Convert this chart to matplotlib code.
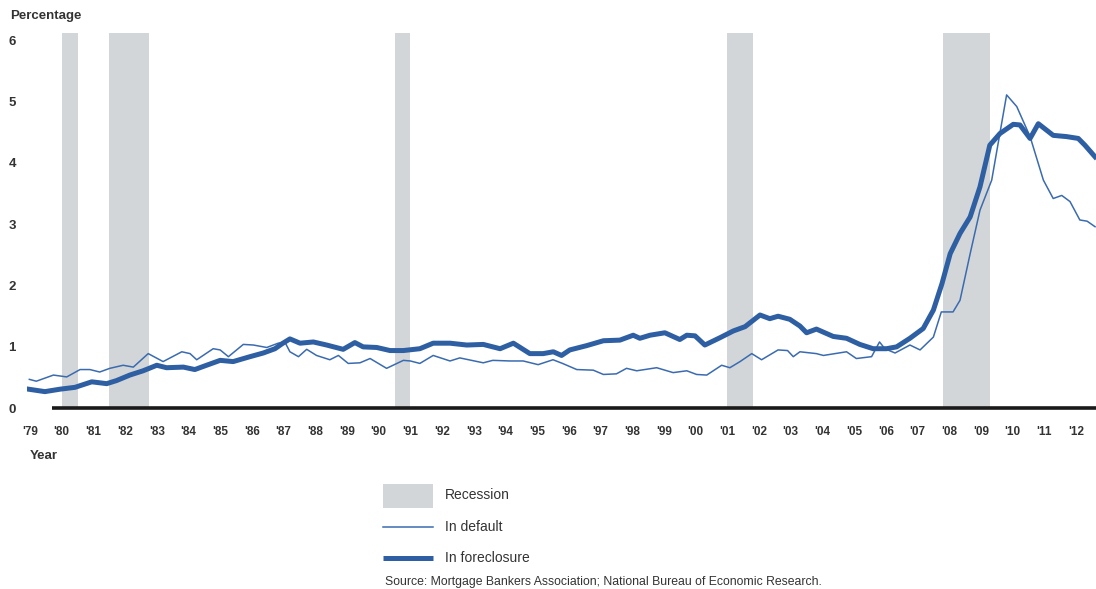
import numpy as np
import matplotlib
matplotlib.use("Agg")
import matplotlib.pyplot as plt
from matplotlib.patches import Rectangle
from matplotlib.lines import Line2D

plt.rcParams["font.family"] = ["Liberation Sans", "DejaVu Sans"]

# recession periods (start, end) in decimal years
rec_start = [1980.0, 1981.5, 1990.5, 2001.0, 2007.8]
rec_end = [1980.5, 1982.75, 1991.0, 2001.8, 2009.3]

fc_year = [1978.95, 1979.47, 1979.95, 1980.42, 1980.95, 1981.42, 1981.73, 1982.15, 1982.57, 1983.0,
           1983.31, 1983.84, 1984.2, 1984.57, 1985.0, 1985.41, 1985.94, 1986.36, 1986.73, 1986.95,
           1987.2, 1987.52, 1987.94, 1988.36, 1988.88, 1989.25, 1989.51, 1989.94, 1990.36, 1990.78,
           1991.3, 1991.72, 1992.25, 1992.78, 1993.3, 1993.83, 1994.25, 1994.77, 1995.19, 1995.51,
           1995.77, 1996.03, 1996.56, 1997.09, 1997.61, 1998.03, 1998.24, 1998.56, 1999.03, 1999.5,
           1999.72, 1999.98, 2000.29, 2000.77, 2001.19, 2001.56, 2002.03, 2002.34, 2002.6, 2002.97,
           2003.29, 2003.5, 2003.81, 2004.34, 2004.76, 2005.18, 2005.6, 2006.02, 2006.34, 2006.76,
           2007.18, 2007.5, 2007.77, 2008.03, 2008.34, 2008.66, 2008.97, 2009.28, 2009.6, 2010.02,
           2010.23, 2010.55, 2010.81, 2011.28, 2011.7, 2012.07, 2012.28, 2012.6]
fc_val = [0.31, 0.27, 0.31, 0.34, 0.43, 0.40, 0.45, 0.54, 0.61, 0.70,
          0.66, 0.67, 0.63, 0.70, 0.78, 0.76, 0.84, 0.90, 0.97, 1.05,
          1.13, 1.06, 1.08, 1.03, 0.96, 1.07, 1.00, 0.99, 0.94, 0.94,
          0.97, 1.06, 1.06, 1.03, 1.04, 0.97, 1.06, 0.89, 0.89, 0.92,
          0.86, 0.95, 1.02, 1.10, 1.11, 1.19, 1.14, 1.19, 1.23, 1.12,
          1.19, 1.18, 1.03, 1.15, 1.26, 1.33, 1.52, 1.46, 1.50, 1.45,
          1.34, 1.23, 1.29, 1.17, 1.14, 1.04, 0.97, 0.97, 1.00, 1.14,
          1.30, 1.60, 2.03, 2.52, 2.85, 3.12, 3.61, 4.29, 4.48, 4.63,
          4.62, 4.40, 4.64, 4.45, 4.43, 4.40, 4.29, 4.10]

df_year = [1978.98, 1979.2, 1979.74, 1980.16, 1980.58, 1980.89, 1981.2, 1981.52, 1981.94, 1982.26,
           1982.73, 1983.2, 1983.79, 1984.05, 1984.26, 1984.78, 1985.0, 1985.26, 1985.73, 1986.05,
           1986.47, 1986.83, 1987.04, 1987.2, 1987.47, 1987.73, 1988.04, 1988.46, 1988.73, 1989.04,
           1989.41, 1989.73, 1990.25, 1990.78, 1991.0, 1991.3, 1991.72, 1992.25, 1992.56, 1993.3,
           1993.6, 1994.14, 1994.56, 1995.03, 1995.5, 1995.8, 1996.25, 1996.77, 1997.09, 1997.5,
           1997.82, 1998.14, 1998.77, 1999.29, 1999.72, 2000.03, 2000.35, 2000.82, 2001.08, 2001.4,
           2001.77, 2002.08, 2002.6, 2002.9, 2003.08, 2003.29, 2003.81, 2004.03, 2004.76, 2005.07,
           2005.55, 2005.8, 2005.97, 2006.29, 2006.76, 2007.08, 2007.5, 2007.75, 2008.12, 2008.34,
           2008.66, 2008.97, 2009.34, 2009.81, 2010.13, 2010.55, 2010.97, 2011.28, 2011.55, 2011.81,
           2012.12, 2012.35, 2012.6]
df_val = [0.47, 0.44, 0.54, 0.51, 0.63, 0.63, 0.59, 0.65, 0.70, 0.67,
          0.89, 0.76, 0.92, 0.89, 0.79, 0.97, 0.95, 0.84, 1.04, 1.03,
          0.99, 1.06, 1.08, 0.92, 0.84, 0.96, 0.86, 0.79, 0.86, 0.73,
          0.74, 0.81, 0.65, 0.78, 0.77, 0.73, 0.86, 0.77, 0.82, 0.74,
          0.78, 0.77, 0.77, 0.71, 0.79, 0.73, 0.63, 0.62, 0.55, 0.56,
          0.65, 0.61, 0.66, 0.58, 0.61, 0.55, 0.54, 0.70, 0.66, 0.76,
          0.89, 0.79, 0.95, 0.94, 0.84, 0.92, 0.89, 0.86, 0.92, 0.81,
          0.84, 1.08, 0.97, 0.90, 1.03, 0.95, 1.16, 1.57, 1.57, 1.76,
          2.52, 3.23, 3.72, 5.11, 4.92, 4.43, 3.72, 3.42, 3.47, 3.37,
          3.07, 3.05, 2.96]

years = list(range(1979, 2013))
year_labels = ["'%02d" % (y % 100) for y in years]
y_ticks = [0, 1, 2, 3, 4, 5, 6]

blue = "#2e5fa3"
blue_thin = "#3a6bb0"
grey = "#d3d6d8"
txt = "#333333"

fig = plt.figure(figsize=(10.96, 5.89), dpi=100)
ax = fig.add_axes([0.0246, 0.307, 0.9754, 0.637])

for s, e in zip(rec_start, rec_end):
    ax.axvspan(s, e, color=grey, lw=0, zorder=1)

ax.plot(df_year, df_val, color=blue_thin, lw=1.1, zorder=3)
ax.plot(fc_year, fc_val, color=blue, lw=3.6, zorder=4, solid_joinstyle="round")

ax.set_xlim(1978.905, 2012.63)
ax.set_ylim(0, 6.12)
ax.hlines(0, 1979.69, 2012.63, color="#1a1a1a", lw=2.6, zorder=5, clip_on=False)

for sp in ax.spines.values():
    sp.set_visible(False)
ax.set_xticks(years)
ax.set_xticklabels(year_labels, fontsize=8.5, color=txt, fontweight="bold")
ax.set_yticks(y_ticks)
ax.set_yticklabels([str(v) for v in y_ticks], fontsize=9.5, color=txt, fontweight="bold")
ax.tick_params(axis="both", length=0)
ax.tick_params(axis="x", pad=13)
ax.tick_params(axis="y", pad=8)

fig.text(0.009, 0.972, "Percentage", fontsize=9.5, fontweight="bold", color=txt, va="center")
fig.text(0.027, 0.226, "Year", fontsize=9.5, fontweight="bold", color=txt, va="center")

# legend drawn in figure pixels
W, H = 1096.0, 589.0
fig.add_artist(Rectangle((383 / W, 1 - 508 / H), 50 / W, 24 / H, transform=fig.transFigure,
                         color=grey, lw=0))
fig.add_artist(Line2D([383 / W, 433 / W], [1 - 527 / H] * 2, transform=fig.transFigure,
                      color=blue_thin, lw=1.1))
fig.add_artist(Line2D([383 / W, 433 / W], [1 - 558 / H] * 2, transform=fig.transFigure,
                      color=blue, lw=3.6, solid_capstyle="butt"))
fig.text(445 / W, 1 - 495 / H, "Recession", fontsize=10, color=txt, va="center")
fig.text(445 / W, 1 - 527 / H, "In default", fontsize=10, color=txt, va="center")
fig.text(445 / W, 1 - 558 / H, "In foreclosure", fontsize=10, color=txt, va="center")
fig.text(385 / W, 1 - 582 / H,
         "Source: Mortgage Bankers Association; National Bureau of Economic Research.",
         fontsize=8.8, color=txt, va="center")

fig.savefig("out.png", dpi=100)
